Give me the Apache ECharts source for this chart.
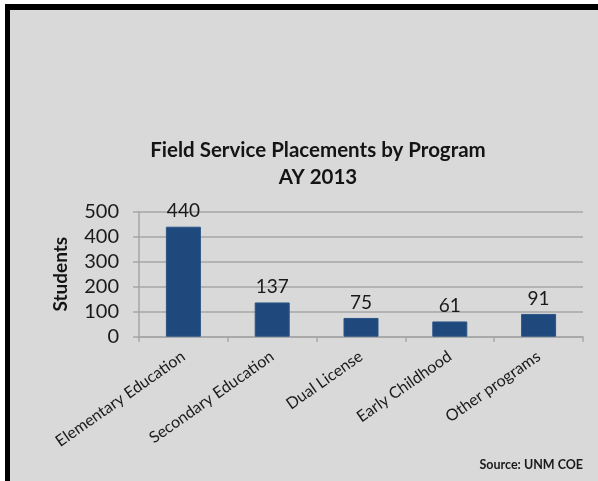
<!DOCTYPE html>
<html>
<head>
<meta charset="utf-8">
<script src="https://cdn.jsdelivr.net/npm/echarts@6/dist/echarts.min.js"></script>
<style>
  html, body { margin: 0; padding: 0; background: #ffffff; }
  #chart { width: 598px; height: 481px; }
</style>
</head>
<body>
<div id="chart"></div>
<script>
// Field service placements by program, AY 2013
const programs = ['Elementary Education', 'Secondary Education', 'Dual License', 'Early Childhood', 'Other programs'];
const students = [440, 137, 75, 61, 91];
const yTicks = [0, 100, 200, 300, 400, 500];

const FONT = 'Lato, "Open Sans", sans-serif';
const chart = echarts.init(document.getElementById('chart'), null, { renderer: 'canvas' });

chart.setOption({
  animation: false,
  backgroundColor: '#ffffff',
  graphic: [
    // grey panel with a black frame on top and left
    { type: 'rect', z: -10, shape: { x: 5, y: 4, width: 593, height: 477 }, style: { fill: '#000000' } },
    { type: 'rect', z: -9, shape: { x: 10, y: 10, width: 588, height: 471 }, style: { fill: '#d9d9d9' } },
    {
      type: 'text', x: 318, y: 137, z: 5,
      style: {
        text: 'Field Service Placements by Program\nAY 2013',
        font: 'bold 20.5px ' + FONT, fill: '#141414', textAlign: 'center', lineHeight: 27
      }
    },
    {
      type: 'text', right: 15, top: 458, z: 5,
      style: { text: 'Source: UNM COE', font: 'bold 12.5px ' + FONT, fill: '#1a1a1a' }
    }
  ],
  grid: { left: 139, right: 15, top: 211.7, bottom: 144.3, containLabel: false },
  xAxis: {
    type: 'category',
    data: programs,
    axisLine: { show: true, lineStyle: { color: '#a6a6a6', width: 1.5 } },
    axisTick: { show: true, length: 5, alignWithLabel: false, lineStyle: { color: '#a6a6a6', width: 1.5 } },
    axisLabel: {
      interval: 0, rotate: 35, margin: 18,
      color: '#1a1a1a', fontSize: 16, fontFamily: FONT
    }
  },
  yAxis: {
    type: 'value',
    min: yTicks[0], max: yTicks[yTicks.length - 1], interval: 100,
    name: 'Students', nameLocation: 'middle', nameGap: 69, nameRotate: 90,
    nameTextStyle: { color: '#141414', fontSize: 19, fontWeight: 'bold', fontFamily: FONT },
    axisLine: { show: true, lineStyle: { color: '#a6a6a6', width: 1.5 } },
    axisTick: { show: true, length: 6, lineStyle: { color: '#a6a6a6', width: 1.5 } },
    splitLine: { show: true, lineStyle: { color: '#a6a6a6', width: 1.5 } },
    axisLabel: { color: '#1a1a1a', fontSize: 20, fontFamily: FONT, margin: 20 }
  },
  series: [{
    type: 'bar',
    data: students,
    barWidth: 35,
    itemStyle: { color: '#1f497d', borderColor: '#2a5487', borderWidth: 1 },
    label: {
      show: true, position: 'top', distance: 6,
      color: '#1a1a1a', fontSize: 19, fontFamily: FONT
    }
  }]
});
</script>
</body>
</html>
